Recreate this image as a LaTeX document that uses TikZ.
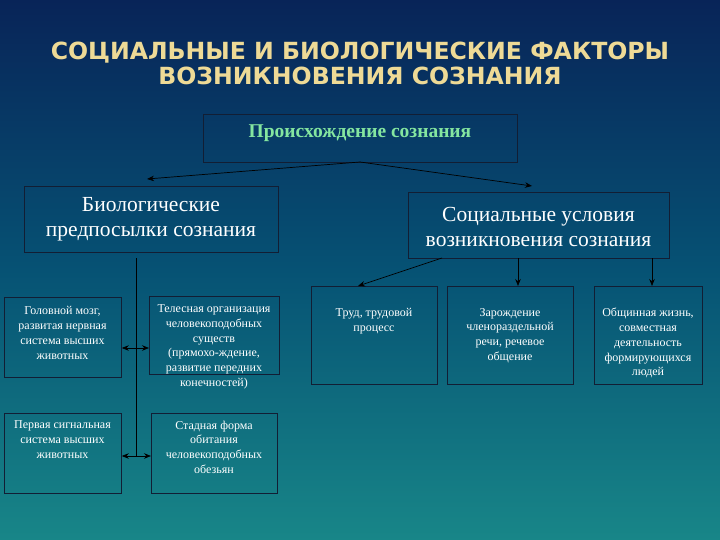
\documentclass[tikz,border=0pt]{standalone}
\usepackage{fontspec}
\setmainfont{Liberation Serif}
\newfontfamily\titlefont{DejaVu Sans}
\usetikzlibrary{arrows.meta}
\definecolor{bgtop}{RGB}{8,36,88}
\definecolor{bgmid}{RGB}{6,82,116}
\definecolor{bgbot}{RGB}{24,134,136}
\definecolor{titlecol}{RGB}{238,218,150}
\definecolor{greencol}{RGB}{132,230,160}
\definecolor{edgecol}{RGB}{18,30,52}
\tikzset{
  box/.style={draw=edgecol, line width=0.8pt, rectangle, inner sep=0pt, anchor=north west},
  bigtxt/.style={text=white, align=center, font=\fontsize{21.5}{25}\selectfont, inner sep=0pt},
  smalltxt/.style={text=white, align=center, font=\fontsize{12}{14.8}\selectfont, inner sep=0pt, anchor=north},
  arr/.style={draw=black, line width=0.7pt, -{Stealth[length=7pt,width=5.5pt]}},
  darr/.style={draw=black, line width=0.7pt, {Stealth[length=7pt,width=5.5pt]}-{Stealth[length=7pt,width=5.5pt]}},
  ln/.style={draw=black, line width=0.7pt}
}
\begin{document}
\begin{tikzpicture}[x=1pt,y=-1pt]
\useasboundingbox (0,0) rectangle (720,540);
\shade[top color=bgtop, bottom color=bgmid] (0,0) rectangle (720,270);
\shade[top color=bgmid, bottom color=bgbot] (0,270) rectangle (720,540);

% title
\node[text=titlecol, font=\titlefont\bfseries\fontsize{23.6}{25}\selectfont, align=center, inner sep=0pt] (title) at (360,63)
  {СОЦИАЛЬНЫЕ И БИОЛОГИЧЕСКИЕ ФАКТОРЫ\\ВОЗНИКНОВЕНИЯ СОЗНАНИЯ};

% top box
\node[box, minimum width=314pt, minimum height=48pt] (top) at (203,114) {};
\node[text=greencol, font=\bfseries\fontsize{19.5}{22}\selectfont, inner sep=0pt] (toptxt) at (360,133.5) {Происхождение сознания};

% second row
\node[box, minimum width=254pt, minimum height=66pt] (bio) at (24,186) {};
\node[bigtxt] (biotxt) at (151,219.5) {Биологические\\предпосылки сознания};
\node[box, minimum width=261pt, minimum height=66pt] (soc) at (408,192) {};
\node[bigtxt] (soctxt) at (538.5,226.5) {Социальные условия\\возникновения сознания};

% arrows from top
\coordinate (tb) at (360,162);
\coordinate (biotip) at (147,179);
\coordinate (soctip) at (532,186);
\draw[arr] (tb) -- (biotip);
\draw[arr] (tb) -- (soctip);

% social children
\node[box, minimum width=126pt, minimum height=98pt] (s1) at (311,286) {};
\node[smalltxt] (s1t) at (374,308) {Труд, трудовой\\процесс};
\node[box, minimum width=126pt, minimum height=98pt] (s2) at (447,286) {};
\node[smalltxt] (s2t) at (510,308) {Зарождение\\членораздельной\\речи, речевое\\общение};
\node[box, minimum width=108pt, minimum height=98pt] (s3) at (594,286) {};
\node[smalltxt] (s3t) at (648,308) {Общинная жизнь,\\совместная\\деятельность\\формирующихся\\людей};

\coordinate (sa) at (442,258);
\coordinate (s1tip) at (358,286);
\coordinate (sb) at (518,258);
\coordinate (s2tip) at (518,286);
\coordinate (sc) at (652,258);
\coordinate (s3tip) at (652,286);
\draw[arr] (sa) -- (s1tip);
\draw[arr] (sb) -- (s2tip);
\draw[arr] (sc) -- (s3tip);

% biological children
\node[box, minimum width=117pt, minimum height=80pt] (b1) at (4,297) {};
\node[smalltxt] (b1t) at (62.5,306.5) {Головной мозг,\\развитая нервная\\система высших\\животных};
\node[box, minimum width=130pt, minimum height=78pt] (b2) at (149,296) {};
\node[smalltxt] (b2t) at (214,304.5) {Телесная организация\\человекоподобных\\существ\\(прямохо-ждение,\\развитие передних\\конечностей)};
\node[box, minimum width=117pt, minimum height=80pt] (b3) at (4,413) {};
\node[smalltxt] (b3t) at (62.5,420.5) {Первая сигнальная\\система высших\\животных};
\node[box, minimum width=126pt, minimum height=80pt] (b4) at (151,413) {};
\node[smalltxt] (b4t) at (214,420.5) {Стадная форма\\обитания\\человекоподобных\\обезьян};

\coordinate (vtop) at (136,258);
\coordinate (vbot) at (136,457);
\draw[ln] (vtop) -- (vbot);
\draw[darr] (b1.east |- 0,348) -- (b2.west |- 0,348);
\draw[darr] (b3.east |- 0,456) -- (b4.west |- 0,456);
\end{tikzpicture}
\end{document}
